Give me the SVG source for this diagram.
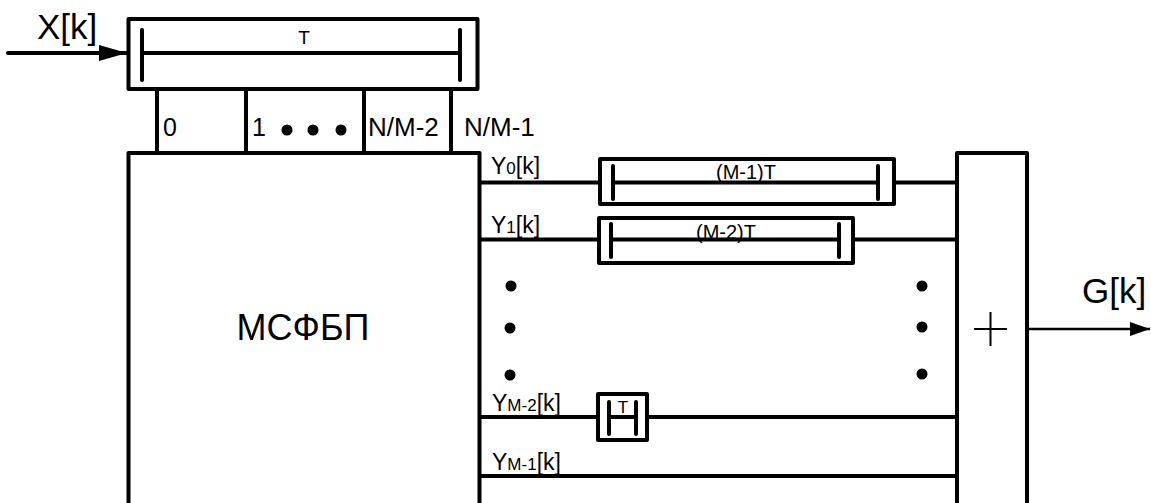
<svg xmlns="http://www.w3.org/2000/svg" width="1151" height="503" viewBox="0 0 1151 503">
<defs>
<style>
.s{fill:none;stroke:#000;stroke-width:4;stroke-linejoin:round}
.b{fill:none;stroke:#000;stroke-width:4;stroke-linecap:round}
.t{font-family:"Liberation Sans",Arial,sans-serif;fill:#000}
.thin{fill:none;stroke:#000;stroke-width:2}
</style>
<marker id="ah" markerWidth="20" markerHeight="16" refX="20" refY="8" orient="auto" markerUnits="userSpaceOnUse">
<path d="M0,1 L20,8 L0,15 Z" fill="#000"/>
</marker>
<marker id="ahin" markerWidth="28" markerHeight="18" refX="28" refY="9" orient="auto" markerUnits="userSpaceOnUse">
<path d="M0,1 L28,9 L0,17 Z" fill="#000"/>
</marker>
</defs>
<rect width="1151" height="503" fill="#fff"/>
<g id="connectors">
<line x1="8" y1="53" x2="127" y2="53" stroke="#000" stroke-width="4" stroke-linecap="round" marker-end="url(#ahin)"/>
<line class="s" x1="157" y1="89" x2="157" y2="153"/>
<line class="s" x1="246" y1="89" x2="246" y2="153"/>
<line class="s" x1="364" y1="89" x2="364" y2="153"/>
<line class="s" x1="451" y1="89" x2="451" y2="153"/>
<line class="s" x1="480" y1="182.5" x2="600" y2="182.5"/>
<line class="s" x1="894" y1="182.5" x2="957" y2="182.5"/>
<line class="s" x1="480" y1="239.5" x2="599" y2="239.5"/>
<line class="s" x1="853" y1="239.5" x2="957" y2="239.5"/>
<line class="s" x1="480" y1="417" x2="598" y2="417"/>
<line class="s" x1="647" y1="417" x2="957" y2="417"/>
<line class="s" x1="480" y1="476" x2="957" y2="476"/>
<line x1="1028" y1="329" x2="1150" y2="329" stroke="#000" stroke-width="2.5" marker-end="url(#ah)"/>
</g>
<g id="input-label"><text class="t" x="37" y="39" font-size="35">X[k]</text></g>
<g id="delay-T">
<rect class="s" x="128.5" y="19" width="349" height="70"/>
<line class="b" x1="142" y1="53" x2="460" y2="53"/>
<line class="b" x1="142" y1="30" x2="142" y2="80"/>
<line class="b" x1="460" y1="30" x2="460" y2="80"/>
<text class="t" x="304" y="44" font-size="19" text-anchor="middle">T</text>
</g>
<g id="taps">
<text class="t" x="163" y="136" font-size="25">0</text>
<text class="t" x="252" y="136" font-size="25">1</text>
<circle cx="287" cy="130" r="5.5"/>
<circle cx="313" cy="130" r="5.5"/>
<circle cx="341" cy="130" r="5.5"/>
<text class="t" x="368" y="136" font-size="26">N/M-2</text>
<text class="t" x="464" y="136" font-size="26">N/M-1</text>
</g>
<g id="msfbp">
<path class="s" d="M128.5,505 V153 H479.5 V505"/>
<text class="t" x="303" y="340" font-size="36" text-anchor="middle">МСФБП</text>
</g>
<g id="outputs">
<text class="t" x="491" y="174" font-size="23">Y<tspan font-size="17">0</tspan>[k]</text>
<text class="t" x="491" y="233" font-size="23">Y<tspan font-size="17">1</tspan>[k]</text>
<text class="t" x="492" y="411" font-size="23">Y<tspan font-size="17">M-2</tspan>[k]</text>
<text class="t" x="492" y="470" font-size="23">Y<tspan font-size="17">M-1</tspan>[k]</text>
<circle cx="511" cy="286" r="5.5"/>
<circle cx="510" cy="328" r="5.5"/>
<circle cx="510" cy="375" r="5.5"/>
<circle cx="922" cy="286" r="5.5"/>
<circle cx="922" cy="327" r="5.5"/>
<circle cx="922" cy="374" r="5.5"/>
</g>
<g id="delay-M1">
<rect class="s" x="600" y="159" width="294" height="45"/>
<line class="b" x1="613" y1="182.5" x2="878" y2="182.5"/>
<line class="b" x1="613" y1="166" x2="613" y2="199"/>
<line class="b" x1="878" y1="166" x2="878" y2="199"/>
<text class="t" x="746" y="179" font-size="20" text-anchor="middle">(M-1)T</text>
</g>
<g id="delay-M2">
<rect class="s" x="599" y="218" width="254" height="45"/>
<line class="b" x1="611" y1="239.5" x2="839" y2="239.5"/>
<line class="b" x1="611" y1="224" x2="611" y2="257"/>
<line class="b" x1="839" y1="224" x2="839" y2="257"/>
<text class="t" x="726" y="239" font-size="20" text-anchor="middle">(M-2)T</text>
</g>
<g id="delay-1">
<rect class="s" x="598" y="394" width="49" height="46"/>
<line class="b" x1="609" y1="417" x2="636" y2="417"/>
<line class="b" x1="609" y1="402" x2="609" y2="434"/>
<line class="b" x1="636" y1="402" x2="636" y2="434"/>
<text class="t" x="623" y="413" font-size="17" text-anchor="middle">T</text>
</g>
<g id="summer">
<path class="s" d="M957,505 V153 H1027 V505"/>
<line class="thin" x1="974" y1="329" x2="1007" y2="329"/>
<line class="thin" x1="990.5" y1="312" x2="990.5" y2="346"/>
</g>
<g id="output-label"><text class="t" x="1082" y="303" font-size="35">G[k]</text></g>
</svg>
